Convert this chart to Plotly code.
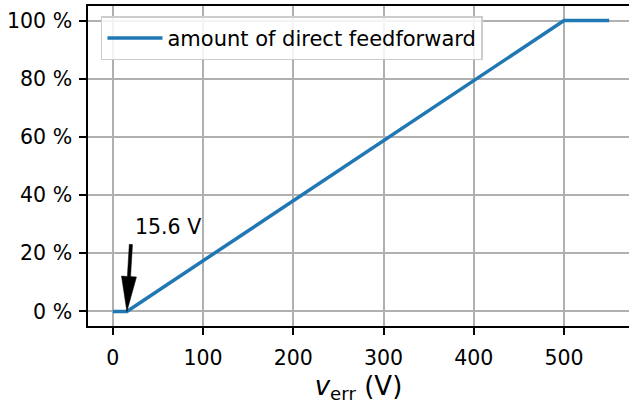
import math
import plotly.graph_objects as go

# Share of direct feedforward versus voltage error
v_err = [0, 15.6, 500, 550]          # V
amount = [0, 0, 100, 100]            # %
kink_v = 15.6                        # V, onset of feedforward
label_pos = (22.5, 29)               # text position (V, %)

y_ticks = [0, 20, 40, 60, 80, 100]
y_labels = [f"{v} %" for v in y_ticks]
x_ticks = [0, 100, 200, 300, 400, 500]

FONT = "DejaVu Sans"
TICK_SIZE = 20.5
fig = go.Figure()

fig.add_trace(go.Scatter(
    x=v_err, y=amount, mode="lines",
    line=dict(color="#1f77b4", width=3.5),
    name="amount of direct feedforward",
))

# Arrow polygon (pixel offsets from the tip at the kink point)
dx, dy, L, W, s = 4.0, 67.0, 35.0, 7.5, 1.6
n = math.hypot(dx, dy)
ux, uy = dx / n, dy / n
px, py = uy, -ux
T = n
pts = [
    (0, 0),
    (L * ux + W * px, L * uy + W * py),
    (L * ux + s * px, L * uy + s * py),
    (T * ux + s * px, T * uy + s * py),
    (T * ux - s * px, T * uy - s * py),
    (L * ux - s * px, L * uy - s * py),
    (L * ux - W * px, L * uy - W * py),
]
path = "M" + " L".join(f"{x:.2f},{y:.2f}" for x, y in pts) + " Z"
fig.add_shape(
    type="path", path=path, xref="x", yref="y",
    xsizemode="pixel", ysizemode="pixel",
    xanchor=kink_v, yanchor=amount[1],
    fillcolor="black", line=dict(color="black", width=0.5),
)

fig.add_annotation(
    x=label_pos[0], y=label_pos[1], xref="x", yref="y",
    text=f"{kink_v} V", showarrow=False,
    xanchor="left", yanchor="middle",
    font=dict(family=FONT, size=TICK_SIZE, color="black"),
)

axis_common = dict(
    showline=True, linecolor="black", linewidth=1.5,
    ticks="outside", ticklen=7, tickwidth=1.5, tickcolor="black",
    showgrid=True, gridcolor="#b0b0b0", gridwidth=1.5,
    zeroline=False,
    tickfont=dict(family=FONT, size=TICK_SIZE, color="black"),
)

fig.update_xaxes(
    range=[-27.5, 572], tickvals=x_ticks, mirror=True,
    ticklabelstandoff=6,
    title=dict(text="<i>v</i><sub>err</sub> (V)",
               font=dict(family=FONT, size=26, color="black"), standoff=7),
    **axis_common,
)
fig.update_yaxes(
    range=[-5, 105], tickvals=y_ticks, ticktext=y_labels,
    ticklabelstandoff=3,
    **axis_common,
)

fig.update_layout(
    width=629, height=404,
    margin=dict(l=88, r=0, t=6, b=78),
    plot_bgcolor="white", paper_bgcolor="white",
    font=dict(family=FONT, color="black"),
    showlegend=True,
    legend=dict(
        x=0.024, y=0.968, xanchor="left", yanchor="top",
        itemwidth=55,
        bgcolor="rgba(255,255,255,0.85)", bordercolor="#cccccc", borderwidth=1.5,
        font=dict(family=FONT, size=21, color="black"),
    ),
)

fig.write_html("out.html")
